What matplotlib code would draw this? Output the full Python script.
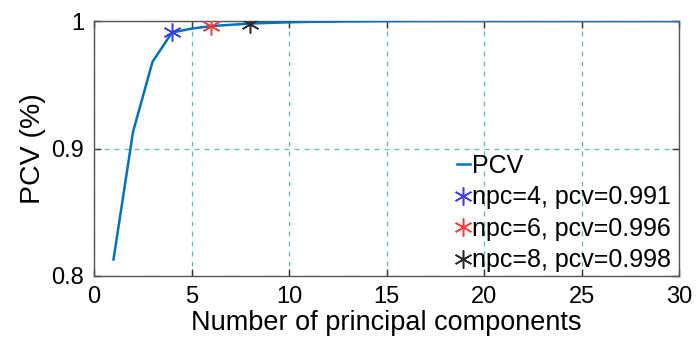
import matplotlib
matplotlib.use("Agg")
import matplotlib.pyplot as plt

plt.rcParams['font.family'] = ['Liberation Sans', 'DejaVu Sans']

# Cumulative proportion of variance vs. number of principal components
npc = list(range(1, 31))
pcv = [0.813, 0.913, 0.968, 0.991, 0.994, 0.996, 0.997, 0.998, 0.9985, 0.999,
       0.9993, 0.9995, 0.9997, 0.9998, 0.9999, 0.99995, 1.0, 1.0, 1.0, 1.0,
       1.0, 1.0, 1.0, 1.0, 1.0, 1.0, 1.0, 1.0, 1.0, 1.0]

# Highlighted choices of component count
sel_npc = [4, 6, 8]
sel_colors = ['#3c3cff', '#ff3c3c', '#2a2a2a']

xticks = [0, 5, 10, 15, 20, 25, 30]
yticks = [0.8, 0.9, 1.0]
yticklabels = ['0.8', '0.9', '1']

fig = plt.figure(figsize=(6.97, 3.54), dpi=100)
ax = fig.add_axes([94 / 697, 1 - 276 / 354, (679 - 94) / 697, (276 - 21) / 354])

line_color = '#0072BD'
ax.plot(npc, pcv, color=line_color, lw=1.8, label='PCV', zorder=3)

for n, c in zip(sel_npc, sel_colors):
    v = pcv[npc.index(n)]
    ax.plot([n], [v], linestyle='none', marker=(6, 2, 0), markersize=13,
            markeredgewidth=1.1, color=c, label=f'npc={n}, pcv={v:.3f}', zorder=4)

ax.set_xlim(0, 30)
ax.set_ylim(0.8, 1.0)
ax.set_xticks(xticks)
ax.set_yticks(yticks)
ax.set_yticklabels(yticklabels)

ax.grid(True, color='#5fbcbc', linestyle=(0, (4, 4)), linewidth=0.9)
ax.set_axisbelow(True)

for s in ax.spines.values():
    s.set_color('#555555')
    s.set_linewidth(1.0)

ax.tick_params(direction='in', length=5, width=1, color='#333333',
               top=True, right=True, labelsize=17, pad=7)

ax.set_xlabel('Number of principal components', fontsize=19.5, labelpad=2)
ax.set_ylabel('PCV (%)', fontsize=20.5, labelpad=4)

leg = ax.legend(loc='lower right', bbox_to_anchor=(0.995, -0.005), frameon=False,
                fontsize=18, handlelength=0.5, handletextpad=0.1,
                labelspacing=0.3, borderaxespad=0.0, borderpad=0.2)

fig.savefig('out.png', dpi=100)
